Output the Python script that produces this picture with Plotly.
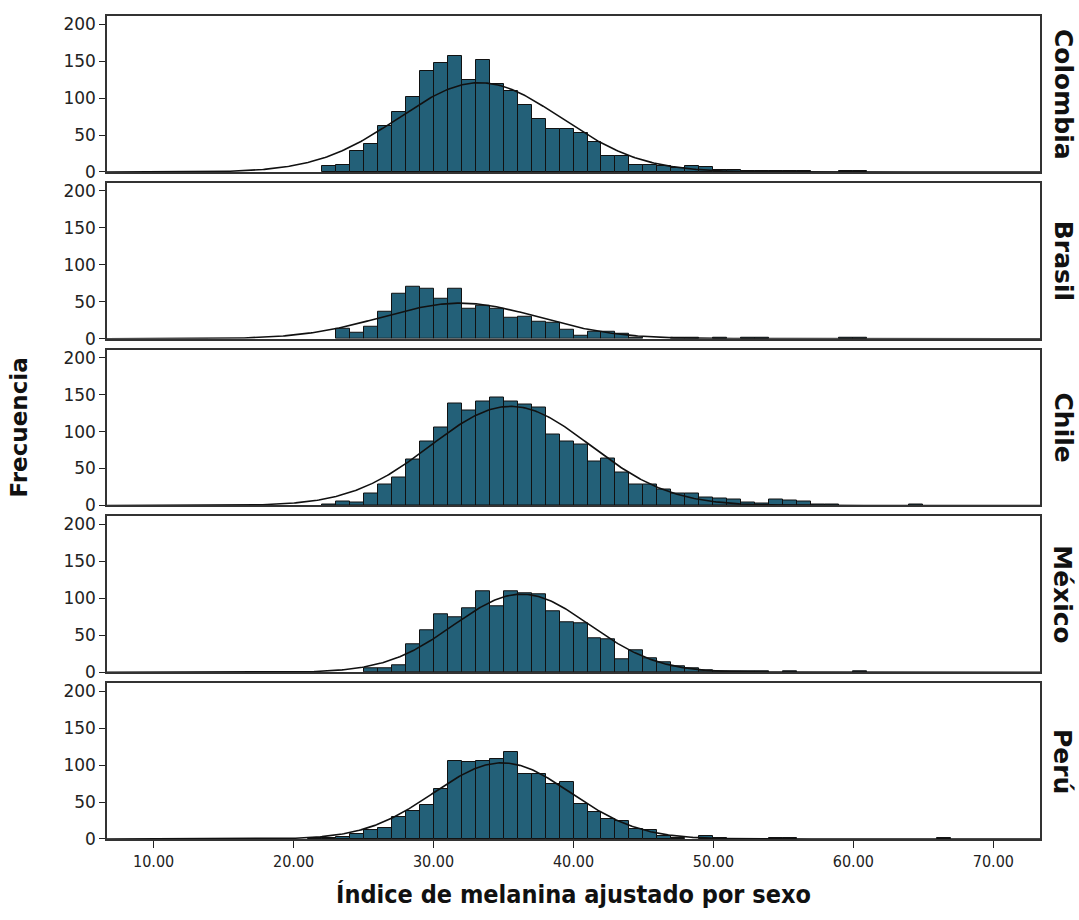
import numpy as np
import plotly.graph_objects as go
from plotly.subplots import make_subplots

# Histogram bins: width 1, left edges 20 .. 67
bin_start = 20
bin_width = 1.0

countries = ["Colombia", "Brasil", "Chile", "México", "Perú"]

colombia_counts = [0, 0, 8, 10, 29, 38, 62, 81, 101, 137,
                   148, 157, 124, 152, 119, 109, 91, 71, 58, 58,
                   53, 40, 22, 21, 10, 10, 8, 5, 8, 7,
                   3, 3, 2, 1, 2, 2, 1, 0, 0, 2,
                   2, 0, 0, 0, 0, 0, 0, 0]
brasil_counts = [0, 0, 0, 13, 8, 16, 36, 61, 70, 67,
                 54, 68, 41, 44, 41, 29, 30, 23, 21, 12,
                 4, 9, 10, 7, 2, 0, 0, 2, 1, 0,
                 2, 0, 1, 2, 0, 0, 0, 0, 0, 1,
                 1, 0, 0, 0, 0, 0, 0, 0]
chile_counts = [0, 0, 2, 6, 4, 16, 28, 38, 62, 86,
                106, 138, 128, 141, 146, 141, 136, 133, 96, 87,
                83, 60, 63, 44, 29, 29, 21, 16, 16, 11,
                9, 8, 4, 3, 8, 7, 6, 2, 2, 0,
                0, 0, 0, 0, 1, 0, 0, 0]
mexico_counts = [0, 0, 0, 0, 0, 5, 5, 9, 38, 57,
                 79, 75, 87, 110, 89, 109, 107, 105, 82, 67,
                 66, 46, 44, 17, 30, 19, 14, 8, 5, 3,
                 2, 1, 2, 1, 0, 1, 0, 0, 0, 0,
                 1, 0, 0, 0, 0, 0, 0, 0]
peru_counts = [0, 1, 2, 3, 7, 12, 15, 30, 38, 46,
               68, 106, 104, 106, 108, 118, 88, 88, 74, 77,
               47, 36, 27, 24, 14, 12, 4, 2, 0, 4,
               1, 0, 0, 0, 1, 1, 0, 0, 0, 0,
               0, 0, 0, 0, 0, 0, 1, 0]

# Fitted normal curve parameters (mean, standard deviation)
normal_mean = [33.3, 31.9, 35.5, 36.3, 34.9]
normal_sd = [5.8, 5.6, 5.7, 4.85, 4.9]

x_ticks = [10, 20, 30, 40, 50, 60, 70]
y_ticks = [0, 50, 100, 150, 200]

all_counts = [colombia_counts, brasil_counts, chile_counts, mexico_counts, peru_counts]

bar_color = "#236078"
x_range = [6.667, 73.333]
y_range = [0, 211]
narrow_font = "DejaVu Sans Condensed, Liberation Sans Narrow, Roboto Condensed, Liberation Sans, sans-serif"

fig = make_subplots(rows=5, cols=1, shared_xaxes=True, vertical_spacing=0.0131)

xs = np.linspace(x_range[0], x_range[1], 600)
for i, (name, counts) in enumerate(zip(countries, all_counts)):
    row = i + 1
    counts = np.array(counts, dtype=float)
    centers = bin_start + bin_width * (np.arange(len(counts)) + 0.5)
    # empty bins are left undrawn
    shown = [c if c > 0 else None for c in counts]
    fig.add_trace(go.Bar(x=centers, y=shown, width=bin_width,
                         marker=dict(color=bar_color, line=dict(color="#111111", width=1)),
                         showlegend=False, hoverinfo="x+y"), row=row, col=1)
    n = counts.sum()
    mu, sd = normal_mean[i], normal_sd[i]
    ys = n * bin_width / (sd * np.sqrt(2 * np.pi)) * np.exp(-0.5 * ((xs - mu) / sd) ** 2)
    fig.add_trace(go.Scatter(x=xs, y=ys, mode="lines",
                             line=dict(color="#111111", width=1.6),
                             showlegend=False, hoverinfo="skip"), row=row, col=1)
    fig.update_yaxes(range=y_range, tickvals=y_ticks, ticks="outside", ticklen=6,
                     tickcolor="#222222", showgrid=False, zeroline=False,
                     showline=True, mirror=True, linecolor="#333333", linewidth=1.5,
                     tickfont=dict(family="DejaVu Sans", size=17, color="#222222"),
                     row=row, col=1)
    fig.update_xaxes(range=x_range, tickvals=x_ticks,
                     ticktext=[f"{v:.2f}" for v in x_ticks],
                     ticks="outside" if row == 5 else "", ticklen=7,
                     tickcolor="#222222", showgrid=False, zeroline=False,
                     showline=True, mirror=True, linecolor="#333333", linewidth=1.5,
                     showticklabels=(row == 5),
                     tickfont=dict(family=narrow_font, size=16, color="#222222"),
                     row=row, col=1)

# Country labels on the right side of each panel
for i, name in enumerate(countries):
    yaxis = fig.layout["yaxis" if i == 0 else f"yaxis{i + 1}"]
    d0, d1 = yaxis.domain
    fig.add_annotation(text=f"<b>{name}</b>", xref="paper", yref="paper",
                       x=1, y=(d0 + d1) / 2, xshift=23, showarrow=False,
                       textangle=90, xanchor="center", yanchor="middle",
                       font=dict(family="DejaVu Sans", size=25, color="#111111"))

fig.update_xaxes(title=dict(text="<b>Índice de melanina ajustado por sexo</b>",
                            font=dict(family=narrow_font, size=25, color="#111111"),
                            standoff=16), row=5, col=1)

fig.add_annotation(text="<b>Frecuencia</b>", xref="paper", yref="paper",
                   x=0, y=0.5, xshift=-89, showarrow=False, textangle=-90,
                   xanchor="center", yanchor="middle",
                   font=dict(family="DejaVu Sans", size=23, color="#111111"))

fig.update_layout(width=1079, height=920, bargap=0,
                  margin=dict(l=107, r=39, t=16, b=81),
                  plot_bgcolor="white", paper_bgcolor="white")

fig.write_html("out.html")
